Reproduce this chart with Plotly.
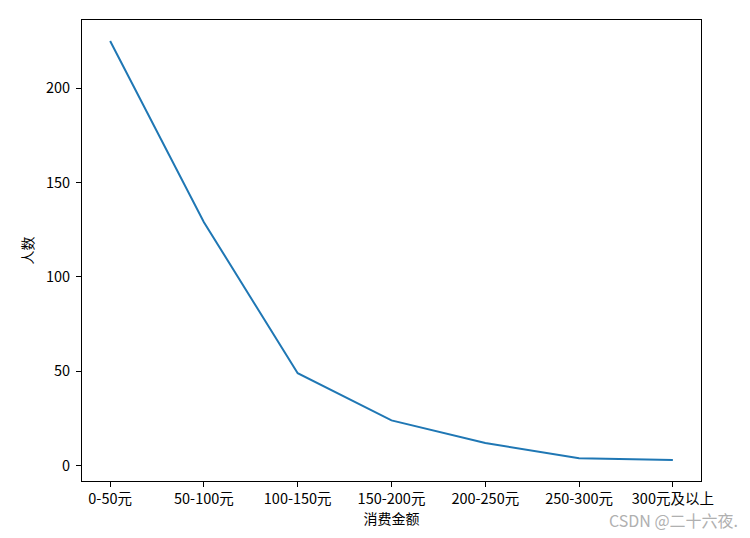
import plotly.graph_objects as go

categories = ["0-50元", "50-100元", "100-150元", "150-200元", "200-250元", "250-300元", "300元及以上"]
counts = [225, 129, 49, 24, 12, 4, 3]

FONT = "Noto Sans CJK SC, SimHei, sans-serif"

fig = go.Figure()
fig.add_trace(go.Scatter(
    x=list(range(len(categories))), y=counts, mode="lines",
    line=dict(color="#1f77b4", width=2),
    showlegend=False,
))

fig.update_xaxes(
    range=[-0.3, 6.3],
    tickmode="array", tickvals=list(range(len(categories))), ticktext=categories,
    ticks="outside", ticklen=5, tickwidth=1, tickcolor="black",
    showline=True, linecolor="black", linewidth=1, mirror=True,
    showgrid=False, zeroline=False,
    tickfont=dict(family=FONT, size=14.5, color="black"),
    title=dict(text="消费金额", font=dict(family=FONT, size=14, color="black"), standoff=6),
)
fig.update_yaxes(
    range=[-8.1, 236.1],
    tickmode="array", tickvals=[0, 50, 100, 150, 200],
    ticks="outside", ticklen=5, tickwidth=1, tickcolor="black",
    showline=True, linecolor="black", linewidth=1, mirror=True,
    showgrid=False, zeroline=False, ticklabelstandoff=3,
    tickfont=dict(family=FONT, size=14.5, color="black"),
    title=dict(text="人数", font=dict(family=FONT, size=14, color="black"), standoff=9),
)

fig.add_annotation(
    text="CSDN @二十六夜.", xref="paper", yref="paper",
    x=1.063, y=-0.0846, xanchor="right", yanchor="middle", showarrow=False,
    font=dict(family=FONT, size=16, color="#b0b0b0"),
)

fig.update_layout(
    width=742, height=530,
    margin=dict(l=74, r=49, t=12, b=57, autoexpand=False),
    plot_bgcolor="white", paper_bgcolor="white",
)

fig.write_html("out.html")
